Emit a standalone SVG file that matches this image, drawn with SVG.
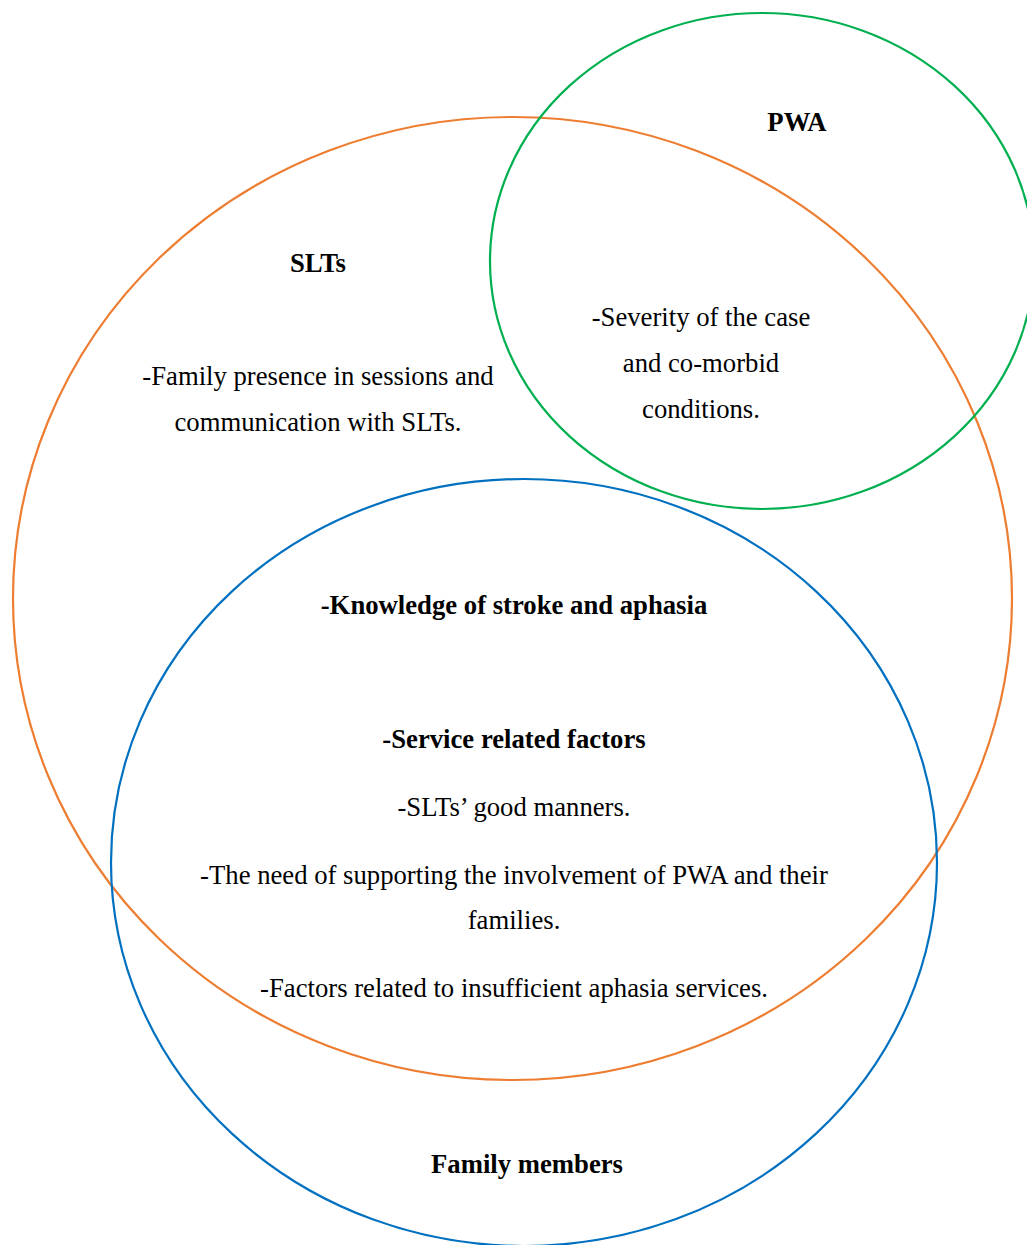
<svg xmlns="http://www.w3.org/2000/svg" width="1027" height="1245" viewBox="0 0 1027 1245">
  <style>
    .ring { fill: none; stroke-width: 2.2; }
    .t { font-family: "Liberation Serif", "Times New Roman", serif; font-size: 26.7px; fill: #000; text-anchor: middle; }
    .b { font-weight: bold; }
  </style>
  <rect width="1027" height="1245" fill="#fff"/>
  <g id="slts">
    <ellipse class="ring" cx="512.5" cy="598.5" rx="499.5" ry="481.5" stroke="#ED7D31"/>
    <text class="t b" x="318" y="272">SLTs</text>
    <text class="t" x="318" y="385">-Family presence in sessions and</text>
    <text class="t" x="318" y="431">communication with SLTs.</text>
  </g>
  <g id="pwa">
    <ellipse class="ring" cx="762" cy="261" rx="272" ry="248" stroke="#00B050"/>
    <text class="t b" x="797" y="131">PWA</text>
    <text class="t" x="701" y="326">-Severity of the case</text>
    <text class="t" x="701" y="372">and co-morbid</text>
    <text class="t" x="701" y="418">conditions.</text>
  </g>
  <g id="family">
    <ellipse class="ring" cx="524" cy="862.5" rx="413" ry="383.5" stroke="#0070C0"/>
    <text class="t b" x="527" y="1173">Family members</text>
  </g>
  <g id="shared">
    <text class="t b" x="514" y="614">-Knowledge of stroke and aphasia</text>
    <text class="t b" x="514" y="748">-Service related factors</text>
    <text class="t" x="514" y="816">-SLTs’ good manners.</text>
    <text class="t" x="514" y="884">-The need of supporting the involvement of PWA and their</text>
    <text class="t" x="514" y="929">families.</text>
    <text class="t" x="514" y="997">-Factors related to insufficient aphasia services.</text>
  </g>
  <g id="connectors"/>
</svg>
